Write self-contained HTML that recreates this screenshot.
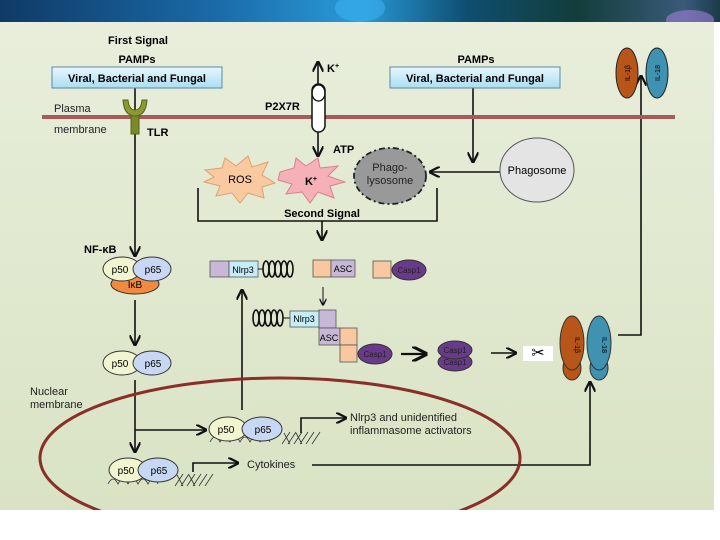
<!DOCTYPE html>
<html><head><meta charset="utf-8"><style>
html,body{margin:0;padding:0;background:#fff;}
svg{display:block;font-family:"Liberation Sans",Arial,sans-serif;}
</style></head><body>
<svg width="720" height="540" viewBox="0 0 720 540" xmlns="http://www.w3.org/2000/svg">
<defs>
<linearGradient id="ban" x1="0" x2="1" y1="0" y2="0">
<stop offset="0" stop-color="#0f3a66"/><stop offset="0.3" stop-color="#1a6aa8"/><stop offset="0.5" stop-color="#2a9ad8"/><stop offset="0.65" stop-color="#0e4e70"/><stop offset="0.8" stop-color="#123d3a"/><stop offset="0.95" stop-color="#3a5a7a"/><stop offset="1" stop-color="#1b3a4a"/>
</linearGradient>
<linearGradient id="box" x1="0" x2="0" y1="0" y2="1"><stop offset="0" stop-color="#e8f6fd"/><stop offset="1" stop-color="#a9def3"/></linearGradient>
<linearGradient id="bg" x1="0" x2="0" y1="0" y2="1"><stop offset="0" stop-color="#e8eedb"/><stop offset="1" stop-color="#d9e3c4"/></linearGradient>
<marker id="a" viewBox="0 0 10 10" refX="9" refY="5" markerWidth="7" markerHeight="7" orient="auto-start-reverse"><path d="M0,0 L10,5 L0,10" fill="none" stroke="#111" stroke-width="2"/></marker>
<clipPath id="dc"><rect x="0" y="22" width="714" height="488"/></clipPath>
</defs>
<rect x="0" y="0" width="720" height="22" fill="url(#ban)"/>
<ellipse cx="360" cy="8" rx="25" ry="14" fill="#3ab0f0" opacity="0.6"/>
<ellipse cx="690" cy="20" rx="24" ry="10" fill="#a080d8" opacity="0.6"/>
<rect x="0" y="22" width="714" height="488" fill="url(#bg)"/>

<g stroke="#111" stroke-width="1.6" fill="none">
<line x1="135" y1="88" x2="135" y2="256" marker-end="url(#a)"/>
<line x1="318" y1="86" x2="318" y2="62" marker-end="url(#a)"/>
<line x1="318" y1="128" x2="318" y2="156" marker-end="url(#a)"/>
<line x1="473" y1="88" x2="473" y2="162" marker-end="url(#a)"/>
<line x1="500" y1="172" x2="430" y2="172" marker-end="url(#a)"/>
<polyline points="198,188 198,221 437,221 437,188"/>
<line x1="322" y1="221" x2="322" y2="240" marker-end="url(#a)"/>
<polyline points="618,335 641,335 641,76" marker-end="url(#a)"/>
<line x1="135" y1="300" x2="135" y2="345" marker-end="url(#a)"/>
<line x1="135" y1="380" x2="135" y2="452" marker-end="url(#a)"/>
<line x1="135" y1="430" x2="206" y2="430" marker-end="url(#a)"/>
<line x1="242" y1="410" x2="242" y2="290" marker-end="url(#a)"/>
<polyline points="301,433 301,418 346,418" marker-end="url(#a)"/>
<polyline points="193,472 193,463 238,463" marker-end="url(#a)"/>
<polyline points="312,465 590,465 590,382" marker-end="url(#a)"/>
<line x1="323" y1="287" x2="323" y2="305" stroke-width="1" marker-end="url(#a)"/>
<line x1="401" y1="354" x2="426" y2="354" stroke-width="2.2" marker-end="url(#a)"/>
<line x1="491" y1="353" x2="516" y2="353" marker-end="url(#a)"/>
</g>

<line x1="42" y1="117" x2="675" y2="117" stroke="#a85a5a" stroke-width="4"/>
<text x="54" y="112" font-size="11" fill="#222">Plasma</text>
<text x="54" y="133" font-size="11" fill="#222">membrane</text>

<rect x="131" y="112" width="8" height="22" fill="#7a8a2a" stroke="#556018"/>
<path d="M123,100 Q124,116 135,116 Q146,116 147,100 L142,100 Q141,110 135,110 Q129,110 128,100 Z" fill="#8a9a30" stroke="#556018"/>
<text x="147" y="136" font-size="11" font-weight="bold">TLR</text>

<text x="138" y="44" font-size="11" font-weight="bold" text-anchor="middle">First Signal</text>
<text x="137" y="63" font-size="11" font-weight="bold" text-anchor="middle">PAMPs</text>
<rect x="52" y="67" width="170" height="21" fill="url(#box)" stroke="#5a8aa0"/>
<text x="137" y="82" font-size="11" font-weight="bold" text-anchor="middle">Viral, Bacterial and Fungal</text>
<text x="476" y="63" font-size="11" font-weight="bold" text-anchor="middle">PAMPs</text>
<rect x="390" y="67" width="170" height="21" fill="url(#box)" stroke="#5a8aa0"/>
<text x="475" y="82" font-size="11" font-weight="bold" text-anchor="middle">Viral, Bacterial and Fungal</text>

<text x="265" y="110" font-size="11" font-weight="bold">P2X7R</text>
<rect x="312" y="84" width="13" height="48" rx="6.5" fill="#fff" stroke="#111" stroke-width="1.5"/>
<ellipse cx="318.5" cy="93" rx="6.5" ry="8" fill="none" stroke="#111" stroke-width="1.3"/>
<text x="327" y="72" font-size="11" font-weight="bold">K<tspan font-size="7" dy="-4">+</tspan></text>
<text x="333" y="153" font-size="11" font-weight="bold">ATP</text>

<polygon points="205,170 222,168 225,158 236,166 248,156 252,167 268,162 262,175 275,183 262,187 264,198 248,193 240,203 232,193 216,196 220,186 204,182 214,177" fill="#f9caa0" stroke="#e0a070"/>
<text x="240" y="183" font-size="11" text-anchor="middle">ROS</text>
<polygon points="280,172 294,168 296,158 306,166 318,158 320,168 338,166 328,176 345,182 330,186 334,198 318,192 310,203 302,192 286,194 292,184 278,180" fill="#f5b0b8" stroke="#d88090"/>
<text x="311" y="185" font-size="11" font-weight="bold" text-anchor="middle">K<tspan font-size="7" dy="-4">+</tspan></text>
<ellipse cx="390" cy="176" rx="36" ry="28" fill="#999" stroke="#222" stroke-width="1.8" stroke-dasharray="6,3,2,3"/>
<text x="390" y="171" font-size="11" fill="#222" text-anchor="middle">Phago-</text>
<text x="390" y="184" font-size="11" fill="#222" text-anchor="middle">lysosome</text>
<ellipse cx="537" cy="170" rx="37" ry="32" fill="#e4e4e4" stroke="#555"/>
<text x="537" y="174" font-size="11" text-anchor="middle">Phagosome</text>
<text x="322" y="217" font-size="11" font-weight="bold" text-anchor="middle">Second Signal</text>

<ellipse cx="627" cy="73" rx="11" ry="25" fill="#b8561a" stroke="#222"/>
<ellipse cx="657" cy="73" rx="11" ry="25" fill="#3f92b0" stroke="#222"/>
<text transform="translate(630,73) rotate(-90)" font-size="7" text-anchor="middle">IL-1β</text>
<text transform="translate(660,73) rotate(-90)" font-size="7" text-anchor="middle">IL-18</text>

<text x="84" y="253" font-size="11" font-weight="bold">NF-κB</text>
<ellipse cx="135" cy="284" rx="24" ry="10" fill="#f08a40" stroke="#333"/>
<text x="135" y="288" font-size="10" text-anchor="middle">IκB</text>
<ellipse cx="122" cy="269" rx="19" ry="12" fill="#f2f6d0" stroke="#333"/>
<ellipse cx="152" cy="269" rx="19" ry="12" fill="#c8d8f4" stroke="#333"/>
<text x="120" y="273" font-size="10" text-anchor="middle">p50</text>
<text x="153" y="273" font-size="10" text-anchor="middle">p65</text>
<ellipse cx="122" cy="363" rx="19" ry="12" fill="#f2f6d0" stroke="#333"/>
<ellipse cx="152" cy="363" rx="19" ry="12" fill="#c8d8f4" stroke="#333"/>
<text x="120" y="367" font-size="10" text-anchor="middle">p50</text>
<text x="153" y="367" font-size="10" text-anchor="middle">p65</text>

<ellipse cx="280" cy="458" rx="240" ry="80" fill="none" stroke="#8a2e2a" stroke-width="3" clip-path="url(#dc)"/>
<text x="30" y="395" font-size="11" fill="#222">Nuclear</text>
<text x="30" y="408" font-size="11" fill="#222">membrane</text>

<g fill="none" stroke="#333" stroke-width="0.8">
<path d="M210,442 q5,-10 10,0 q5,-10 10,0 q5,-10 10,0 q5,-10 10,0 q5,-10 10,0 q5,-10 10,0 M282,444 l8,-12 M288,444 l8,-12 M294,444 l8,-12 M300,444 l8,-12 M306,444 l8,-12 M312,444 l8,-12 M284,433 l6,11 M296,433 l6,11"/>
<path d="M108,484 q5,-10 10,0 q5,-10 10,0 q5,-10 10,0 q5,-10 10,0 q5,-10 10,0 M175,486 l8,-12 M181,486 l8,-12 M187,486 l8,-12 M193,486 l8,-12 M199,486 l8,-12 M205,486 l8,-12 M177,475 l6,11 M189,475 l6,11"/>
</g>
<ellipse cx="228" cy="429" rx="19" ry="12" fill="#f2f6d0" stroke="#333"/>
<ellipse cx="262" cy="429" rx="20" ry="12" fill="#c8d8f4" stroke="#333"/>
<text x="226" y="433" font-size="10" text-anchor="middle">p50</text>
<text x="263" y="433" font-size="10" text-anchor="middle">p65</text>
<ellipse cx="128" cy="470" rx="19" ry="12" fill="#f2f6d0" stroke="#333"/>
<ellipse cx="158" cy="470" rx="20" ry="12" fill="#c8d8f4" stroke="#333"/>
<text x="126" y="474" font-size="10" text-anchor="middle">p50</text>
<text x="159" y="474" font-size="10" text-anchor="middle">p65</text>
<text x="350" y="421" font-size="11" fill="#222">Nlrp3 and unidentified</text>
<text x="350" y="434" font-size="11" fill="#222">inflammasome activators</text>
<text x="247" y="468" font-size="11" fill="#222">Cytokines</text>

<g stroke="#555" stroke-width="0.8">
<rect x="210" y="261" width="19" height="16" fill="#c8b8d8"/>
<rect x="229" y="261" width="29" height="16" fill="#c6ecf8"/>
<rect x="313" y="260" width="18" height="17" fill="#f8c8a0"/>
<rect x="331" y="260" width="24" height="17" fill="#c8b8d8"/>
<rect x="373" y="261" width="18" height="17" fill="#f8c8a0"/>
</g>
<text x="243" y="273" font-size="9" text-anchor="middle">Nlrp3</text>
<text x="343" y="272" font-size="9" text-anchor="middle">ASC</text>
<ellipse cx="409" cy="270" rx="17" ry="10" fill="#6a3a8a" stroke="#333"/>
<text x="409" y="273" font-size="8" fill="#222" text-anchor="middle">Casp1</text>
<line x1="258" y1="269" x2="263" y2="269" stroke="#111"/>
<g fill="none" stroke="#111" stroke-width="1.6">
<ellipse cx="266" cy="269" rx="3" ry="8"/><ellipse cx="272" cy="269" rx="3" ry="8"/><ellipse cx="278" cy="269" rx="3" ry="8"/><ellipse cx="284" cy="269" rx="3" ry="8"/><ellipse cx="290" cy="269" rx="3" ry="8"/>
<ellipse cx="256" cy="318" rx="3" ry="8"/><ellipse cx="262" cy="318" rx="3" ry="8"/><ellipse cx="268" cy="318" rx="3" ry="8"/><ellipse cx="274" cy="318" rx="3" ry="8"/><ellipse cx="280" cy="318" rx="3" ry="8"/>
</g>
<line x1="283" y1="318" x2="290" y2="318" stroke="#111"/>
<g stroke="#555" stroke-width="0.8">
<rect x="290" y="311" width="29" height="16" fill="#c6ecf8"/>
<rect x="319" y="310" width="17" height="18" fill="#c8b8d8"/>
<rect x="319" y="328" width="21" height="17" fill="#c8b8d8"/>
<rect x="340" y="328" width="17" height="17" fill="#f8c8a0"/>
<rect x="340" y="345" width="17" height="17" fill="#f8c8a0"/>
</g>
<text x="304" y="322" font-size="9" text-anchor="middle">Nlrp3</text>
<text x="329" y="341" font-size="9" text-anchor="middle">ASC</text>
<ellipse cx="375" cy="354" rx="17" ry="10" fill="#6a3a8a" stroke="#333"/>
<text x="375" y="357" font-size="8" fill="#222" text-anchor="middle">Casp1</text>
<ellipse cx="455" cy="362" rx="17" ry="9" fill="#6a3a8a" stroke="#333"/>
<ellipse cx="455" cy="350" rx="17" ry="9" fill="#6a3a8a" stroke="#333"/>
<text x="455" y="353" font-size="8" fill="#222" text-anchor="middle">Casp1</text>
<text x="455" y="365" font-size="8" fill="#222" text-anchor="middle">Casp1</text>
<rect x="523" y="346" width="30" height="15" fill="#fff"/>
<text x="538" y="358" font-size="16" text-anchor="middle">✂</text>

<ellipse cx="572" cy="368" rx="9" ry="12" fill="#b8561a" stroke="#333"/>
<ellipse cx="572" cy="343" rx="12" ry="27" fill="#b8561a" stroke="#333"/>
<ellipse cx="599" cy="368" rx="9" ry="12" fill="#3f92b0" stroke="#333"/>
<ellipse cx="599" cy="343" rx="12" ry="27" fill="#3f92b0" stroke="#333"/>
<text transform="translate(575,345) rotate(90)" font-size="7" text-anchor="middle">IL-1β</text>
<text transform="translate(602,345) rotate(90)" font-size="7" text-anchor="middle">IL-18</text>
</svg>
</body></html>
